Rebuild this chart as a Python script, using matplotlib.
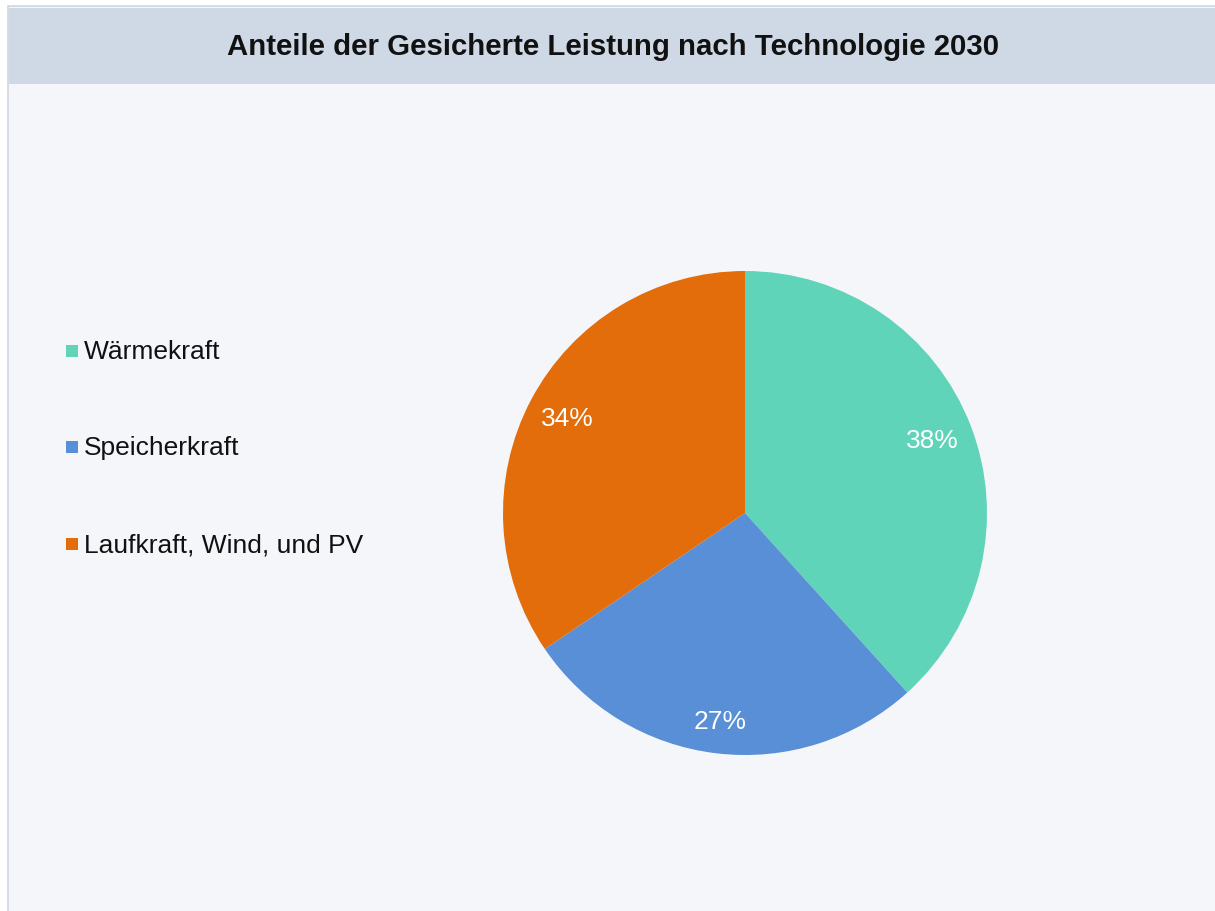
import numpy as np
import matplotlib
matplotlib.use("Agg")
import matplotlib.pyplot as plt
from matplotlib.patches import Rectangle

plt.rcParams['font.family'] = ['Liberation Sans', 'DejaVu Sans']

# ===== data =====
labels = ['Wärmekraft', 'Speicherkraft', 'Laufkraft, Wind, und PV']
shares = [38.3, 27.2, 34.5]
colors = ['#5fd4b8', '#588fd6', '#e36c0b']
title = 'Anteile der Gesicherte Leistung nach Technologie 2030'

W, H = 1215, 911
fig = plt.figure(figsize=(W / 100, H / 100), dpi=100)
fig.patch.set_facecolor('white')

# panel background + title bar (pixel coords converted to figure fraction)
px = lambda x: x / W
py = lambda y: 1 - y / H
fig.patches.append(Rectangle((px(8), -0.01), 1.01 - px(8), py(6) + 0.01, transform=fig.transFigure,
                             facecolor='#f5f6fa', edgecolor='#cdd7e3', linewidth=1.2, zorder=-2))
fig.patches.append(Rectangle((px(9), py(84)), 1 - px(9), py(8) - py(84), transform=fig.transFigure,
                             facecolor='#cfd9e5', edgecolor='none', zorder=-1))
fig.text(px(613), py(47), title, ha='center', va='center', fontsize=21.2,
         fontweight='bold', color='#111111')

# pie
cx, cy, r = 745, 513, 242
ax = fig.add_axes([px(cx - r), py(cy + r), 2 * r / W, 2 * r / H])
ax.set_zorder(5)
wedges, texts, autotexts = ax.pie(shares, colors=colors, startangle=90, counterclock=False,
                                  radius=1, autopct=lambda p: '%.0f%%' % p, pctdistance=0.83,
                                  wedgeprops=dict(linewidth=0),
                                  textprops=dict(color='white', fontsize=19))
# the bottom label sits a little further out in the original
x0, y0 = autotexts[1].get_position()
autotexts[1].set_position((x0 * 0.87 / 0.83, y0 * 0.87 / 0.83))
ax.set_xlim(-1, 1)
ax.set_ylim(-1, 1)
ax.set_aspect('equal')
ax.axis('off')

# legend, drawn by hand like the original layout
leg_y = [352, 448, 545]
for lab, col, y in zip(labels, colors, leg_y):
    fig.patches.append(Rectangle((px(66), py(y + 5)), 12 / W, 12 / H, transform=fig.transFigure,
                                 facecolor=col, edgecolor='none'))
    fig.text(px(84), py(y), lab, ha='left', va='center', fontsize=19, color='#111111')

fig.savefig('out.png', dpi=100, facecolor=fig.get_facecolor())
